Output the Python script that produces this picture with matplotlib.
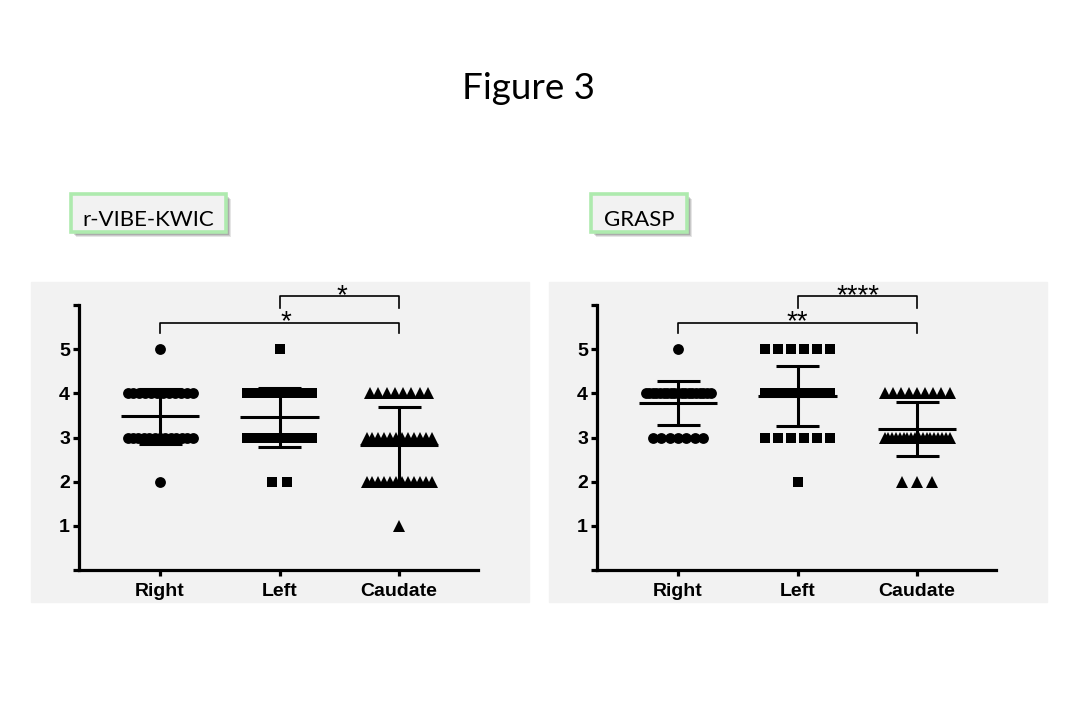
import numpy as np
import matplotlib.pyplot as plt
from matplotlib.patches import Rectangle, FancyBboxPatch

groups = ["Right", "Left", "Caudate"]
scores = [1, 2, 3, 4, 5]

# how many lesions got each score (1..5), per group
vibe_counts = [[0, 1, 13, 12, 1],
               [0, 2, 14, 14, 1],
               [1, 12, 12, 8, 0]]
grasp_counts = [[0, 0, 7, 19, 1],
                [0, 1, 6, 20, 6],
                [0, 3, 18, 9, 0]]

# mean and SD bars
vibe_mean = [3.48, 3.46, 2.83]
vibe_sd = [0.62, 0.67, 0.87]
grasp_mean = [3.78, 3.94, 3.20]
grasp_sd = [0.50, 0.69, 0.61]

vibe_sig = ["*", "*"]          # Left-Caudate, Right-Caudate
grasp_sig = ["****", "**"]

markers = ["o", "s", "^"]
msizes = [7.8, 7.4, 8.2]

W, H = 1080, 720
PX = 119.5  # pixels per x unit


def fx(x):
    return x / W


def fy(y):
    return 1 - y / H


def row_offsets(n):
    if n <= 1:
        return np.zeros(max(n, 0))
    step = min(65 / (n - 1), 15 if n < 7 else 8.3)
    return (np.arange(n) - (n - 1) / 2) * step / PX


fig = plt.figure(figsize=(W / 100, H / 100), dpi=100)
fig.patch.set_facecolor("white")

fig.text(fx(528), fy(99), "Figure 3", ha="center", va="baseline",
         fontsize=26.5, family="Lato")


def draw_panel(px0, counts, means, sds, sig, star_x, label, box):
    # grey backdrop
    fig.patches.append(Rectangle((fx(px0 - 48), fy(602)), 498 / W, 320 / H,
                                 transform=fig.transFigure, color="#f2f2f2",
                                 zorder=-5))
    # label box with shadow
    bx0, bx1 = box
    for i, a in enumerate([0.10, 0.12, 0.15]):
        d = 5 - i
        fig.patches.append(FancyBboxPatch(
            (fx(bx0 + d), fy(232 + d)), (bx1 - bx0) / W, 38 / H,
            boxstyle="square,pad=0", transform=fig.transFigure,
            facecolor="black", edgecolor="none", alpha=a, zorder=-4))
    fig.patches.append(FancyBboxPatch(
        (fx(bx0), fy(232)), (bx1 - bx0) / W, 38 / H,
        boxstyle="square,pad=0", transform=fig.transFigure,
        facecolor="#f2f2f2", edgecolor="#aeeaae", linewidth=2.6, zorder=-3))
    fig.text(fx((bx0 + bx1) / 2), fy(225.5), label, ha="center", va="baseline",
             fontsize=16, family="Lato")

    ax = fig.add_axes([fx(px0), fy(570), 399 / W, 265 / H])
    ax.set_facecolor("none")
    ax.set_xlim(-0.678, 2.661)
    ax.set_ylim(0, 6)

    for g in range(3):
        for s, n in zip(scores, counts[g]):
            xs = g + row_offsets(n)
            ax.plot(xs, [s] * n, linestyle="none", marker=markers[g],
                    ms=msizes[g], color="black", mew=0, clip_on=False, zorder=3)
        m, sd = means[g], sds[g]
        ax.hlines(m, g - 0.33, g + 0.33, color="black", lw=2.2, zorder=4)
        ax.vlines(g, m - sd, m + sd, color="black", lw=2.2, zorder=4)
        ax.hlines([m - sd, m + sd], g - 0.18, g + 0.18, color="black",
                  lw=2.2, zorder=4)

    # significance brackets
    for (a, b, y, leg), txt, sx in zip([(1, 2, 6.2, 0.26), (0, 2, 5.6, 0.24)],
                                       sig, star_x):
        ax.plot([a, a, b, b], [y - leg, y, y, y - leg], color="black",
                lw=1.2, clip_on=False)
        ax.text(sx, y - 0.15, txt, ha="center", va="baseline",
                fontsize=20, family="Liberation Sans", clip_on=False)

    for side in ["top", "right"]:
        ax.spines[side].set_visible(False)
    for side in ["left", "bottom"]:
        ax.spines[side].set_linewidth(2.3)
    ax.set_xticks(range(3))
    ax.set_xticklabels(groups)
    ax.set_yticks(range(7))
    ax.set_yticklabels(["", "1", "2", "3", "4", "5", ""])
    ax.tick_params(width=2.3, length=4.5, labelsize=14)
    ax.tick_params(axis="x", pad=5)
    ax.tick_params(axis="y", pad=2)
    for lab in ax.get_xticklabels() + ax.get_yticklabels():
        lab.set_fontweight("bold")
        lab.set_family("Liberation Sans")
    return ax


draw_panel(79, vibe_counts, vibe_mean, vibe_sd, vibe_sig, [1.52, 1.05],
           "r-VIBE-KWIC", (71, 226))
draw_panel(597, grasp_counts, grasp_mean, grasp_sd, grasp_sig, [1.51, 1.0],
           "GRASP", (591, 687))

fig.savefig("out.png", dpi=100)
